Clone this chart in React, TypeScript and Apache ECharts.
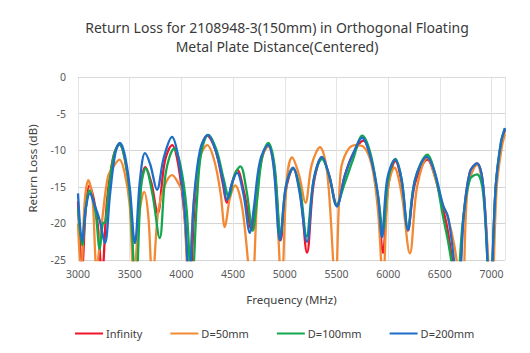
import React, { useEffect, useRef } from "react";
import * as echarts from "echarts";

const titleLines = [
  "Return Loss for 2108948-3(150mm) in Orthogonal Floating",
  "Metal Plate Distance(Centered)",
];
const seriesNames = ["Infinity", "D=50mm", "D=100mm", "D=200mm"];
const seriesColors = ["#F0142A", "#F28A35", "#13A64C", "#1E6DC6"];

// Infinity
const infFreq = [3000, 3040, 3075, 3110, 3150, 3190, 3232, 3280, 3340, 3400, 3450, 3500, 3550, 3600, 3650, 3710, 3770, 3840, 3910, 3970, 4030, 4080, 4130, 4180, 4250, 4330, 4400, 4440, 4490, 4540, 4610, 4680, 4720, 4770, 4840, 4900, 4960, 5010, 5080, 5150, 5215, 5280, 5360, 5430, 5505, 5580, 5660, 5760, 5840, 5900, 5950, 6000, 6070, 6130, 6190, 6260, 6380, 6450, 6530, 6570, 6620, 6670, 6730, 6790, 6860, 6920, 6990, 7040, 7090, 7130];
const infDb = [-17, -26, -18, -14.8, -16.5, -20, -27, -17, -11, -9.2, -11, -16, -29, -16, -12.3, -14.5, -18.6, -11.5, -9.3, -12, -19, -29, -17, -10.5, -8.0, -10, -14.5, -17.2, -14.5, -12.7, -16, -20.9, -17, -11.5, -9.3, -12.5, -22.3, -15.5, -12.5, -16, -24, -14.5, -11, -13.5, -17.5, -13.5, -10.5, -8.7, -11.5, -17, -24, -15, -11.5, -14.5, -21, -14.5, -11.3, -13.5, -18, -20.5, -25, -30, -19, -13, -11.8, -15, -30, -15, -9.5, -7.2];

// D=50mm
const d50Freq = [3000, 3030, 3065, 3100, 3140, 3180, 3230, 3290, 3345, 3400, 3450, 3500, 3540, 3590, 3640, 3680, 3720, 3775, 3840, 3910, 3970, 4015, 4070, 4120, 4180, 4250, 4320, 4380, 4420, 4470, 4520, 4590, 4680, 4740, 4790, 4840, 4900, 4970, 5020, 5070, 5140, 5200, 5260, 5340, 5410, 5490, 5540, 5600, 5680, 5760, 5840, 5900, 5950, 6000, 6060, 6130, 6210, 6280, 6380, 6450, 6530, 6570, 6640, 6715, 6770, 6860, 6920, 7000, 7050, 7100, 7130];
const d50Db = [-20, -27, -17, -14.1, -16.5, -26, -20, -13.6, -12.2, -11.3, -13, -17.5, -28, -19, -15.7, -19, -28, -18.4, -14.8, -13.4, -14.5, -16, -28, -17, -11, -9.3, -11.5, -16, -20.5, -16.5, -14.8, -18, -29, -15, -10.5, -9.5, -13, -28, -14, -11, -13.5, -17.2, -12, -9.6, -13, -28, -13, -10.2, -9.3, -9.5, -12, -18, -28, -15, -12.4, -16, -24.1, -15, -11, -13.5, -17.5, -18.8, -23, -30, -15, -12, -15.5, -30, -15, -9.5, -7.8];

// D=100mm
const d100Freq = [3000, 3040, 3075, 3110, 3150, 3175, 3210, 3240, 3265, 3300, 3350, 3400, 3450, 3500, 3560, 3610, 3655, 3720, 3790, 3850, 3930, 3990, 4050, 4100, 4150, 4190, 4260, 4340, 4410, 4460, 4510, 4570, 4630, 4690, 4730, 4780, 4840, 4900, 4960, 5010, 5080, 5150, 5210, 5280, 5360, 5430, 5500, 5580, 5660, 5750, 5830, 5900, 5950, 6000, 6070, 6130, 6190, 6260, 6380, 6450, 6530, 6580, 6620, 6660, 6720, 6790, 6860, 6920, 6985, 7040, 7090, 7130];
const d100Db = [-18, -23, -18, -15.5, -17, -19, -23.5, -20, -19.8, -15, -10.5, -9.2, -11, -16, -29, -15, -12.5, -16, -22, -13, -9.8, -12, -18, -29, -17, -10.5, -7.9, -10, -14, -16.5, -13.5, -12.2, -15.5, -21, -17, -11, -9.0, -12, -21.5, -15, -12.5, -15.5, -21.8, -14, -11.2, -13.5, -17.5, -14.5, -11.3, -8.0, -10.5, -16, -21, -14, -11.2, -14, -20.5, -14, -10.6, -13, -19, -22.5, -26, -30, -20, -14, -13.3, -16, -30, -15, -9, -7.0];

// D=200mm
const d200Freq = [3000, 3040, 3075, 3115, 3160, 3210, 3260, 3310, 3360, 3405, 3450, 3500, 3550, 3600, 3648, 3700, 3764, 3830, 3909, 3970, 4030, 4075, 4120, 4180, 4257, 4330, 4400, 4441, 4490, 4538, 4600, 4663, 4700, 4760, 4838, 4890, 4953, 5010, 5079, 5140, 5215, 5280, 5360, 5430, 5505, 5580, 5660, 5747, 5830, 5900, 5940, 5990, 6066, 6130, 6191, 6260, 6375, 6450, 6530, 6578, 6620, 6680, 6730, 6790, 6859, 6920, 6985, 7040, 7090, 7130];
const d200Db = [-15.9, -22.5, -18, -15.9, -17.5, -19.6, -22.7, -16, -10.5, -9.0, -10.5, -15, -22.7, -14, -10.4, -12, -15.4, -11, -8.2, -11, -18, -28, -17, -10, -7.9, -10, -14, -16.8, -14.5, -13.1, -16, -21.3, -18, -11.5, -9.3, -12, -22.3, -15, -12.4, -15.5, -22.5, -14, -10.9, -13.5, -17.7, -13.5, -10.5, -8.3, -11, -16, -21.9, -14, -11.3, -14, -20.9, -14, -10.9, -13, -17.5, -19.1, -23, -30, -19, -13, -11.8, -15, -30, -15, -9, -7.0];

const freqs = [infFreq, d50Freq, d100Freq, d200Freq];
const dbs = [infDb, d50Db, d100Db, d200Db];

const xMin = 3000;
const xMax = 7130;
const xStep = 500;
const yMin = -25;
const yMax = 0;
const yStep = 5;

export default function App() {
  const ref = useRef<HTMLDivElement>(null);
  useEffect(() => {
    document.body.style.margin = "0";
    if (!ref.current) return;
    const chart = echarts.init(ref.current, undefined, { renderer: "svg" });
    const font = "'Noto Sans', 'Open Sans', sans-serif";
    chart.setOption({
      animation: false,
      backgroundColor: "#ffffff",
      title: {
        text: titleLines.join("\n"),
        left: 272,
        textAlign: "center",
        top: 13,
        textStyle: {
          fontFamily: font,
          fontSize: 14,
          fontWeight: "normal",
          color: "#3a3a3a",
          lineHeight: 19,
        },
      },
      legend: {
        left: 70,
        top: 323,
        itemGap: 28,
        itemWidth: 28,
        itemHeight: 2,
        icon: "rect",
        textStyle: { fontFamily: font, fontSize: 11, color: "#404040", padding: [0, 0, 0, -2] },
        data: seriesNames,
      },
      grid: { left: 78, right: 25, top: 77, bottom: 93, containLabel: false },
      xAxis: {
        type: "value",
        min: xMin,
        max: xMax,
        interval: xStep,
        name: "Frequency (MHz)",
        nameLocation: "middle",
        nameGap: 33,
        nameTextStyle: { fontFamily: font, fontSize: 11.5, color: "#404040" },
        axisLine: { show: true, lineStyle: { color: "#d9d9d9" } },
        axisTick: { show: false },
        axisLabel: {
          fontFamily: font,
          fontSize: 10.5,
          color: "#595959",
          margin: 8,
          formatter: (v: number) => (v % xStep === 0 ? String(v) : ""),
        },
        splitLine: { show: true, lineStyle: { color: "#e4e4e4" } },
      },
      yAxis: {
        type: "value",
        min: yMin,
        max: yMax,
        interval: yStep,
        name: "Return Loss (dB)",
        nameLocation: "middle",
        nameGap: 40,
        nameTextStyle: { fontFamily: font, fontSize: 11.5, color: "#404040" },
        axisLine: { show: false },
        axisTick: { show: false },
        axisLabel: { fontFamily: font, fontSize: 10.5, color: "#595959", margin: 12 },
        splitLine: { show: true, lineStyle: { color: "#d4d4d4" } },
      },
      series: seriesNames.map((name, i) => ({
        name,
        type: "line",
        symbol: "none",
        smooth: 0.35,
        clip: true,
        color: seriesColors[i],
        lineStyle: { width: 2.3, color: seriesColors[i] },
        data: freqs[i].map((f, j) => [f, dbs[i][j]]),
      })),
    });
    return () => chart.dispose();
  }, []);
  return <div ref={ref} style={{ width: 530, height: 353 }} />;
}
